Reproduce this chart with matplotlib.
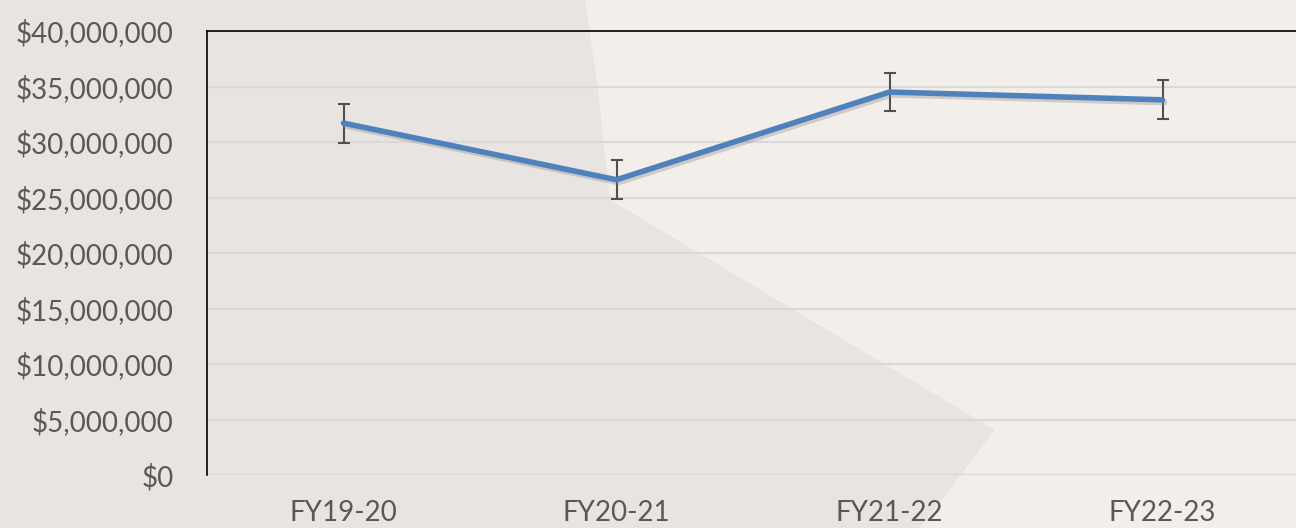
import numpy as np
import matplotlib
matplotlib.use('Agg')
import matplotlib.pyplot as plt
from matplotlib.patches import Polygon
from matplotlib.ticker import FuncFormatter
import matplotlib.patheffects as pe

years = ['FY19-20', 'FY20-21', 'FY21-22', 'FY22-23']
totals = [31700000, 26600000, 34500000, 33800000]
errors = [1750000, 1750000, 1750000, 1750000]

plt.rcParams['font.family'] = ['Lato', 'DejaVu Sans']

W, H = 1296, 528
fig = plt.figure(figsize=(W / 100, H / 100), dpi=100)
fig.patch.set_facecolor('#f2eee9')

# grey backdrop shape on the left (pixel coords -> figure fraction)
shape_px = [(0, 0), (585, 0), (598, 90), (610, 200), (995, 430), (920, 528), (0, 528)]
shape = Polygon([(x / W, 1 - y / H) for x, y in shape_px], closed=True,
                transform=fig.transFigure, facecolor='#e8e4e1', edgecolor='none', zorder=0)
fig.add_artist(shape)

ax = fig.add_axes([207 / W, 1 - 475 / H, 1092 / W, 444 / H])
ax.set_facecolor('none')

x = np.arange(len(years))
ax.errorbar(x, totals, yerr=errors, fmt='none', ecolor='#505050', elinewidth=1.5,
            capsize=4.5, capthick=1.5, zorder=2)
ax.plot(x, totals, color='#4f81bd', linewidth=4, solid_capstyle='round', zorder=3,
        path_effects=[pe.SimpleLineShadow(offset=(1.5, -2), shadow_color='#888888', alpha=0.35),
                      pe.Normal()])

ax.set_xlim(-0.5, 3.5)
ax.set_ylim(0, 40000000)
ax.set_yticks(np.arange(0, 40000001, 5000000))
ax.yaxis.set_major_formatter(FuncFormatter(lambda v, p: '${:,.0f}'.format(v)))
ax.set_xticks(x)
ax.set_xticklabels(years)
ax.grid(axis='y', color='#d9d9d9', linewidth=1.5)
ax.set_axisbelow(True)

ax.tick_params(axis='both', length=0, labelsize=20, labelcolor='#595959')
ax.tick_params(axis='y', pad=24)
ax.tick_params(axis='x', pad=18)

for s in ['right', 'bottom']:
    ax.spines[s].set_visible(False)
ax.spines['top'].set_color('black')
ax.spines['left'].set_color('black')
ax.spines['top'].set_linewidth(1.2)
ax.spines['left'].set_linewidth(1.2)

fig.savefig('out.png', dpi=100, facecolor=fig.get_facecolor())
